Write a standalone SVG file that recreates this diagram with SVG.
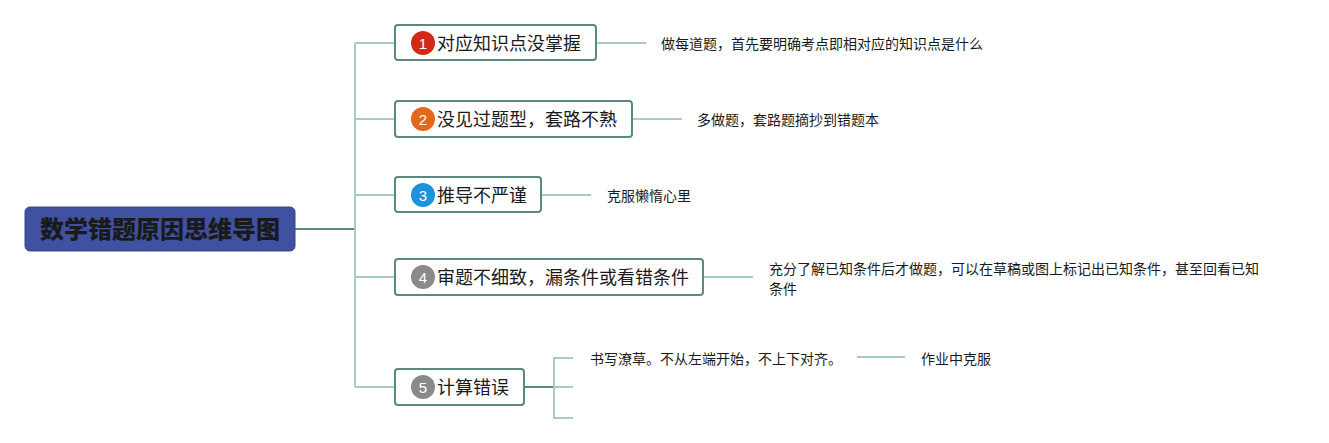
<svg xmlns="http://www.w3.org/2000/svg" width="1329" height="443" viewBox="0 0 1329 443">
<style>
.bg{fill:#ffffff}
.root{fill:#3f51a0;stroke:#36458a;stroke-width:1}
.rt{font-family:"Noto Sans CJK SC","Noto Sans",sans-serif;font-size:24px;font-weight:900;fill:#1a1a1a}
.node{fill:#ffffff;stroke:#5a8a7c;stroke-width:2}
.nt{font-family:"Noto Sans CJK SC","Noto Sans",sans-serif;font-size:18px;fill:#1a1a1a}
.bn{font-family:"Liberation Sans","Noto Sans",sans-serif;font-size:15px;fill:#ffffff;text-anchor:middle}
.lt{font-family:"Noto Sans CJK SC","Noto Sans",sans-serif;font-size:14px;fill:#1a1a1a}
.ln{fill:none;stroke:#a9cbc1;stroke-width:2}
.ld{fill:none;stroke:#5a8a7c;stroke-width:2}
</style>
<rect class="bg" x="0" y="0" width="1329" height="443"/>
<g id="connectors">
<path class="ld" d="M295 229 H355"/>
<path class="ln" d="M355 43 V387"/>
<path class="ln" d="M355 43 H395 M355 119 H395 M355 195 H395 M355 277 H395 M355 387 H395"/>
<path class="ln" d="M596 43 H646"/>
<path class="ln" d="M632 119 H682"/>
<path class="ln" d="M541 195 H591"/>
<path class="ln" d="M703 277 H753"/>
<path class="ld" d="M524 387 H554"/>
<path class="ln" d="M573 358 H554 V418 H573 M554 387 H573"/>
<path class="ln" d="M857 357 H905"/>
</g>
<g id="root">
<rect class="root" x="25" y="207" width="270" height="44" rx="5"/>
<text class="rt" x="160" y="238" text-anchor="middle">数学错题原因思维导图</text>
</g>
<g id="n1">
<rect class="node" x="395" y="25" width="201" height="35" rx="3"/>
<circle cx="423" cy="43" r="12" fill="#d22a17"/>
<text class="bn" x="423" y="48.500">1</text>
<text class="nt" x="437" y="50">对应知识点没掌握</text>
</g>
<g id="n1a"><text class="lt" x="661" y="49">做每道题，首先要明确考点即相对应的知识点是什么</text></g>
<g id="n2">
<rect class="node" x="395" y="101" width="237" height="36" rx="3"/>
<circle cx="423" cy="119" r="12" fill="#e2691c"/>
<text class="bn" x="423" y="124.500">2</text>
<text class="nt" x="437" y="126">没见过题型，套路不熟</text>
</g>
<g id="n2a"><text class="lt" x="697" y="125">多做题，套路题摘抄到错题本</text></g>
<g id="n3">
<rect class="node" x="395" y="177" width="146" height="35" rx="3"/>
<circle cx="423" cy="195" r="12" fill="#1b92dc"/>
<text class="bn" x="423" y="200.500">3</text>
<text class="nt" x="437" y="202">推导不严谨</text>
</g>
<g id="n3a"><text class="lt" x="607" y="201">克服懒惰心里</text></g>
<g id="n4">
<rect class="node" x="395" y="259" width="308" height="36" rx="3"/>
<circle cx="423" cy="277" r="12" fill="#8a8a8a"/>
<text class="bn" x="423" y="282.500">4</text>
<text class="nt" x="437" y="284">审题不细致，漏条件或看错条件</text>
</g>
<g id="n4a"><text class="lt" x="769" y="274">充分了解已知条件后才做题，可以在草稿或图上标记出已知条件，甚至回看已知</text><text class="lt" x="769" y="294">条件</text></g>
<g id="n5">
<rect class="node" x="395" y="369" width="129" height="36" rx="3"/>
<circle cx="423" cy="387" r="12" fill="#8a8a8a"/>
<text class="bn" x="423" y="392.500">5</text>
<text class="nt" x="437" y="394">计算错误</text>
</g>
<g id="n5a"><text class="lt" x="590" y="364">书写潦草。不从左端开始，不上下对齐。</text></g>
<g id="n5b"><text class="lt" x="921" y="364">作业中克服</text></g>
</svg>
